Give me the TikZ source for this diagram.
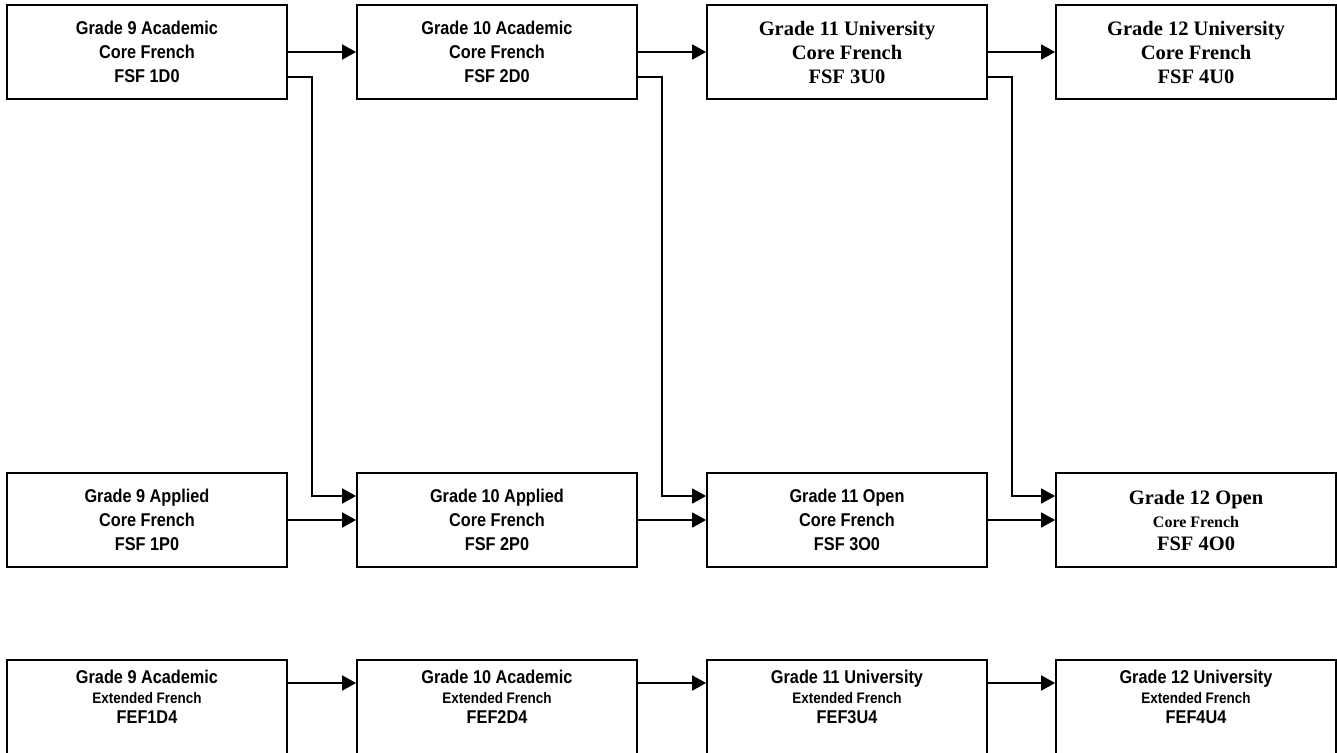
\documentclass[tikz,border=0pt]{standalone}
\usepackage{fontspec}
\newfontfamily\arialfont{Liberation Sans}[FakeStretch=0.88]
\newfontfamily\timesfont{Liberation Serif}
\usetikzlibrary{arrows.meta}
\tikzset{
  course/.style={draw, line width=1.8pt, minimum width=280pt, minimum height=94pt,
    inner sep=0pt, align=center, font=\arialfont\bfseries\fontsize{18.5}{24}\selectfont},
  serifcourse/.style={course, font=\timesfont\bfseries\fontsize{20.5}{24}\selectfont},
  extcourse/.style={course, minimum height=100pt, font=\arialfont\bfseries\fontsize{18.5}{20}\selectfont},
  link/.style={line width=1.8pt, -{Triangle[length=14pt,width=15pt]}}
}
\newcommand{\smallline}[1]{{\fontsize{15.3}{20}\selectfont #1}}
\begin{document}
\begin{tikzpicture}[x=1pt,y=-1pt]
  \clip (0,0) rectangle (1337,752);
  % core french, upper row
  \node[course] (fsf1d) at (147,52) {Grade 9 Academic\\Core French\\FSF 1D0};
  \node[course] (fsf2d) at (497,52) {Grade 10 Academic\\Core French\\FSF 2D0};
  \node[serifcourse] (fsf3u) at (847,52) {Grade 11 University\\Core French\\FSF 3U0};
  \node[serifcourse] (fsf4u) at (1196,52) {Grade 12 University\\Core French\\FSF 4U0};
  % core french, lower row
  \node[course] (fsf1p) at (147,520) {Grade 9 Applied\\Core French\\FSF 1P0};
  \node[course] (fsf2p) at (497,520) {Grade 10 Applied\\Core French\\FSF 2P0};
  \node[course] (fsf3o) at (847,520) {Grade 11 Open\\Core French\\FSF 3O0};
  \node[serifcourse, font=\timesfont\bfseries\fontsize{20.5}{23}\selectfont] (fsf4o) at (1196,520)
    {Grade 12 Open\\{\fontsize{16}{23}\selectfont Core French}\\FSF 4O0};
  % extended french
  \node[extcourse] (fef1d) at (147,710) {Grade 9 Academic\\\smallline{Extended French}\\FEF1D4\\\strut};
  \node[extcourse] (fef2d) at (497,710) {Grade 10 Academic\\\smallline{Extended French}\\FEF2D4\\\strut};
  \node[extcourse] (fef3u) at (847,710) {Grade 11 University\\\smallline{Extended French}\\FEF3U4\\\strut};
  \node[extcourse] (fef4u) at (1196,710) {Grade 12 University\\\smallline{Extended French}\\FEF4U4\\\strut};

  \foreach \a/\b in {fsf1d/fsf2d, fsf2d/fsf3u, fsf3u/fsf4u, fsf1p/fsf2p, fsf2p/fsf3o, fsf3o/fsf4o}
    \draw[link] (\a.east) -- (\b.west);
  \foreach \a/\b in {fsf1d/fsf2p, fsf2d/fsf3o, fsf3u/fsf4o}
    \draw[link] ([yshift=-25pt]\a.east) -- ++(24,0) |- ([yshift=24pt]\b.west);
  \foreach \a/\b in {fef1d/fef2d, fef2d/fef3u, fef3u/fef4u}
    \draw[link] ([yshift=27pt]\a.east) -- ([yshift=27pt]\b.west);
\end{tikzpicture}
\end{document}
